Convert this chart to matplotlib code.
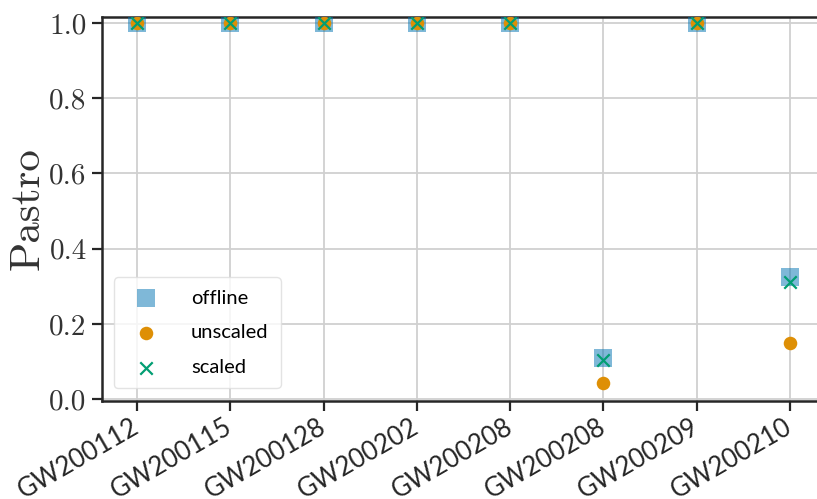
import matplotlib
matplotlib.use("Agg")
import matplotlib.pyplot as plt
import matplotlib.transforms as mtransforms
import numpy as np

# candidate events and their astrophysical probabilities
events = ["GW200112", "GW200115", "GW200128", "GW200202",
          "GW200208", "GW200208", "GW200209", "GW200210"]
pastro_offline = [1.0, 1.0, 1.0, 1.0, 1.0, 0.109, 1.0, 0.325]
pastro_unscaled = [1.0, 1.0, 1.0, 1.0, 1.0, 0.043, 1.0, 0.149]
pastro_scaled = [1.0, 1.0, 1.0, 1.0, 1.0, 0.105, 1.0, 0.311]

blue = "#0173b2"
orange = "#de8f05"
green = "#029e73"
spine_col = "#262626"

fig = plt.figure(figsize=(8.17, 4.99), dpi=100)
ax = fig.add_axes([102 / 817, 1 - 401 / 499, (817 - 102) / 817, (401 - 17) / 499])

x = np.arange(len(events))
ax.scatter(x, pastro_offline, marker="s", s=150, color=blue, alpha=0.5,
           linewidths=0, label="offline", zorder=3)
ax.scatter(x, pastro_unscaled, marker="o", s=95, color=orange,
           linewidths=0, label="unscaled", zorder=4)
ax.scatter(x, pastro_scaled, marker="x", s=80, color=green,
           linewidths=1.6, label="scaled", zorder=5)

ax.set_xlim(-0.375, 7.29)
ax.set_ylim(-0.005, 1.016)
ax.set_xticks(x)
ax.set_xticklabels(events, rotation=30, ha="right", rotation_mode="anchor",
                   fontfamily="Lato", fontsize=18.5, color="#262626")

ax.set_yticks([0.0, 0.2, 0.4, 0.6, 0.8, 1.0])
ax.set_yticklabels(["0.0", "0.2", "0.4", "0.6", "0.8", "1.0"],
                   fontfamily="cmr10", fontsize=21, color="#333333")

ax.set_ylabel("Pastro", fontfamily="cmr10", fontsize=31, color="#333333",
              labelpad=2)

ax.grid(True, color="#d0d0d0", linewidth=1.3, zorder=0)
ax.set_axisbelow(True)
ax.tick_params(axis="both", direction="out", length=7, width=1.6,
               color=spine_col, pad=4)
for side in ["left", "bottom", "top"]:
    ax.spines[side].set_color(spine_col)
    ax.spines[side].set_linewidth(1.8)
ax.spines["right"].set_visible(False)

# nudge the rotated event names a little left of their ticks
# (after tick_params, which resets the label transforms)
shift = mtransforms.ScaledTranslation(-6 / 100, 2 / 100, fig.dpi_scale_trans)
for lbl in ax.get_xticklabels():
    lbl.set_transform(lbl.get_transform() + shift)

leg = ax.legend(loc="lower left", bbox_to_anchor=(0.012, 0.025),
                prop={"family": "Lato", "size": 14.5},
                frameon=True, fancybox=True, framealpha=0.8,
                edgecolor="#dddddd", borderpad=0.6, labelspacing=0.88,
                handletextpad=1.24, borderaxespad=0.15)

fig.savefig("out.png", dpi=100)
